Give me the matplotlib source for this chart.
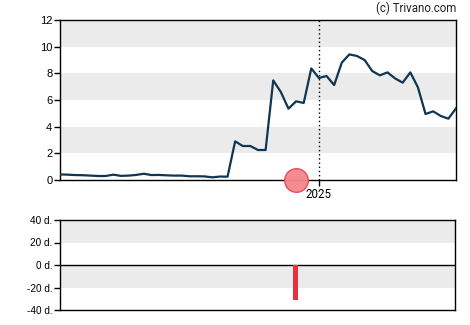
import numpy as np
import pandas as pd
import matplotlib
matplotlib.use("Agg")
import matplotlib.pyplot as plt
import matplotlib.dates as mdates

# -------------------------------
# DATA
# -------------------------------
dates = pd.date_range("2024-05-08", periods=53, freq="7D")
prices = [0.42, 0.40, 0.37, 0.36, 0.33, 0.30, 0.30, 0.40, 0.31, 0.33,
          0.38, 0.47, 0.37, 0.38, 0.35, 0.33, 0.33, 0.28, 0.28, 0.27,
          0.20, 0.26, 0.25, 2.90, 2.55, 2.55, 2.25, 2.25, 7.47, 6.60,
          5.35, 5.90, 5.78, 8.37, 7.65, 7.80, 7.12, 8.80, 9.42, 9.30,
          9.00, 8.17, 7.85, 8.07, 7.62, 7.30, 8.07, 6.95, 4.95, 5.15,
          4.80, 4.60, 5.37]
event_date = pd.Timestamp("2024-12-11")
event_days = -31
year_mark = pd.Timestamp("2025-01-01")
top_ticks = [0, 2, 4, 6, 8, 10, 12]
bottom_ticks = [-40, -20, 0, 20, 40]

LINE = "#0f3553"
BAND = "#ebebeb"
LABEL_FONT = ["Liberation Sans", "DejaVu Sans"]

fig = plt.figure(figsize=(4.7, 3.25), dpi=100)

# -------------------------------
# PRICE CHART
# -------------------------------
ax = fig.add_axes([60 / 470, 1 - 180 / 325, 396 / 470, 160 / 325])
for lo in (2, 6, 10):
    ax.axhspan(lo, lo + 2, color=BAND, lw=0, zorder=0)
ax.plot(dates, prices, color=LINE, lw=1.6, zorder=3)
ax.axvline(year_mark, color="black", lw=1, ls=(0, (1, 2)), zorder=2)
ax.plot([event_date], [0], "o", ms=17, mfc="#f4868b", mec="#e04a55",
        mew=1, alpha=0.95, clip_on=False, zorder=5)
ax.set_xlim(dates[0], dates[-1])
ax.set_ylim(0, 12)
ax.set_yticks(top_ticks)
ax.set_yticklabels([str(t) for t in top_ticks], family=LABEL_FONT, fontsize=8)
ax.set_xticks([year_mark])
ax.set_xticklabels(["2025"], family=["Roboto", "DejaVu Sans"], fontsize=8.3)
ax.tick_params(length=4, width=1, pad=1.5)
for s in ax.spines.values():
    s.set_linewidth(1)

fig.text(456 / 470, 1 - 8 / 325, "(c) Trivano.com", ha="right", va="center",
         family=["Roboto", "DejaVu Sans"], fontsize=8.3, color="#222222")

# -------------------------------
# DAYS CHART
# -------------------------------
bx = fig.add_axes([60 / 470, 1 - 310 / 325, 395 / 470, 90 / 325])
bx.axhspan(20, 40, color=BAND, lw=0, zorder=0)
bx.axhspan(-20, 0, color=BAND, lw=0, zorder=0)
bx.axhline(0, color="black", lw=1, zorder=2)
bx.bar([event_date], [event_days], width=4, color="#e8303f", zorder=3)
bx.set_xlim(dates[0], dates[-1])
bx.set_ylim(-40, 40)
bx.set_yticks(bottom_ticks)
bx.set_yticklabels([f"{t} d." for t in bottom_ticks], family=LABEL_FONT, fontsize=7.2)
bx.set_xticks([])
bx.tick_params(length=4, width=1, pad=1.5)
for s in bx.spines.values():
    s.set_linewidth(1)

fig.savefig("out.png", dpi=100)
